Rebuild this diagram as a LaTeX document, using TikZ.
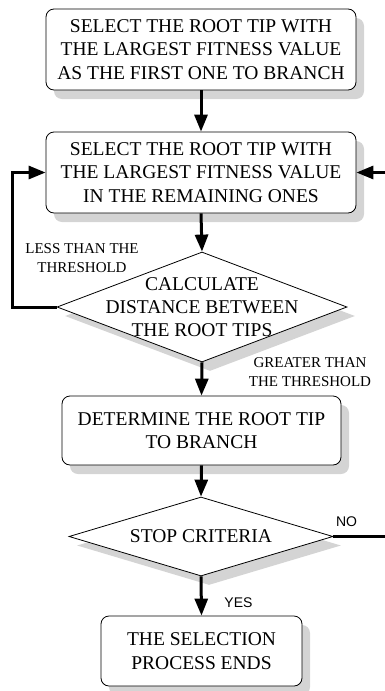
\documentclass[tikz,border=0pt]{standalone}
\usepackage{fontspec}
\setmainfont{Liberation Serif}
\newfontfamily\labelsans{Liberation Sans}
\usetikzlibrary{shapes.geometric,shadows,arrows.meta}
\begin{document}
\begin{tikzpicture}[x=1pt,y=-1pt,
 shd/.style={drop shadow={shadow xshift=8pt,shadow yshift=-9pt,fill=black!17,opacity=1}},
 procbox/.style={draw,line width=0.8pt,rounded corners=8pt,fill=white,shd,align=center,inner sep=0pt,font=\fontsize{19.5}{23.3}\selectfont},
 decision/.style={draw,diamond,line width=0.8pt,fill=white,shd,inner sep=0pt},
 dtext/.style={align=center,font=\fontsize{19.5}{23.3}\selectfont},
 flow/.style={line width=3pt,-{Triangle[length=17pt,width=13pt]}},
 link/.style={line width=3pt},
 note/.style={align=center,font=\fontsize{15}{19}\selectfont},
 sans/.style={font=\labelsans\fontsize{14}{16}\selectfont}]
\useasboundingbox (0,0) rectangle (385,691);

\node[procbox,minimum width=310pt,minimum height=81pt] (b1) at (201,49.5)
  {SELECT THE ROOT TIP WITH\\THE LARGEST FITNESS VALUE\\AS THE FIRST ONE TO BRANCH};
\node[procbox,minimum width=310pt,minimum height=81pt] (b2) at (201,172.5)
  {SELECT THE ROOT TIP WITH\\THE LARGEST FITNESS VALUE\\IN THE REMAINING ONES};
\node[decision,minimum width=290pt,minimum height=110pt] (d1) at (202,307) {};
\node[dtext] (d1t) at (d1.center) {CALCULATE\\DISTANCE BETWEEN\\THE ROOT TIPS};
\node[procbox,minimum width=279pt,minimum height=69pt] (b3) at (201.5,430.5)
  {DETERMINE THE ROOT TIP\\TO BRANCH};
\node[decision,minimum width=264pt,minimum height=79pt] (d2) at (201,536.5) {};
\node[dtext] (d2t) at (d2.center) {STOP CRITERIA};
\node[procbox,minimum width=201pt,minimum height=70pt] (b4) at (201.5,651)
  {THE SELECTION\\PROCESS ENDS};

\coordinate (ledge) at (12,0);
\coordinate (redge) at (385,0);

\draw[flow] (b1.south) -- (b2.north);
\draw[flow] (b2.south) -- (d1.north);
\draw[flow] (d1.west) -| (ledge |- b2.west) -- (b2.west);
\draw[flow] (d1.south) -- (b3.north);
\draw[flow] (b3.south) -- (d2.north);
\draw[flow] (d2.south) -- (b4.north);
\draw[link] (d2.east) -- (d2.east -| redge);
\draw[flow] (b2.east -| redge) -- (b2.east);

\node[note] (lt) at (82,258.5) {LESS THAN THE\\THRESHOLD};
\node[note] (gt) at (310,372) {GREATER THAN\\THE THRESHOLD};
\node[sans] (no) at (346.5,522) {NO};
\node[sans] (yes) at (238.5,603) {YES};
\end{tikzpicture}
\end{document}
